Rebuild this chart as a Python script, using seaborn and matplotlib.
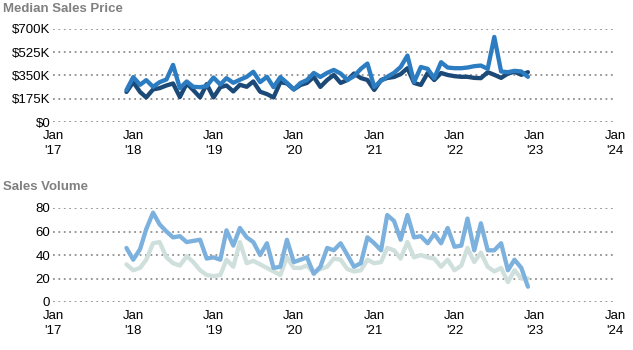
import numpy as np
import pandas as pd
import seaborn as sns
import matplotlib
matplotlib.use("Agg")
import matplotlib.pyplot as plt
import matplotlib.dates as mdates
from matplotlib.ticker import FixedLocator

# ---------------- data ----------------
months = pd.date_range("2017-12-01", periods=61, freq="MS")

price_dark = [226,
              300, 226, 185, 245, 255, 275, 290, 188, 290, 240, 185, 285,
              185, 262, 275, 230, 280, 265, 305, 228, 210, 185, 300, 290,
              245, 279, 294, 339, 264, 316, 354, 294, 316, 365, 331, 316,
              241, 316, 331, 339, 360, 405, 294, 279, 369, 316, 369, 354,
              345, 340, 340, 332, 330, 375, 355, 332, 365, 378, 355, 375]

price_mid = [240,
             338, 280, 315, 265, 300, 320, 430, 255, 305, 265, 262, 270,
             335, 282, 330, 295, 318, 340, 378, 300, 340, 262, 338, 295,
             245, 294, 316, 369, 339, 370, 392, 365, 316, 345, 400, 440,
             264, 310, 340, 370, 414, 500, 300, 414, 400, 330, 450, 410,
             405, 405, 410, 420, 425, 400, 640, 380, 375, 385, 380, 340]

volume_blue = [46,
               36, 45, 62, 76, 66, 60, 55, 56, 51, 52, 53, 37,
               38, 36, 61, 48, 63, 55, 51, 40, 50, 29, 30, 53,
               34, 36, 38, 24, 30, 46, 44, 50, 40, 30, 33, 55,
               50, 44, 74, 69, 53, 74, 55, 56, 50, 58, 50, 63,
               47, 48, 71, 44, 67, 44, 44, 50, 27, 36, 29, 13]

volume_green = [32,
                27, 29, 36, 50, 51, 38, 33, 31, 39, 34, 27, 23,
                22, 23, 36, 30, 51, 33, 35, 32, 29, 26, 23, 38,
                29, 29, 31, 25, 28, 30, 37, 36, 28, 26, 27, 36,
                33, 34, 46, 44, 37, 51, 38, 40, 38, 37, 30, 36,
                27, 31, 46, 34, 42, 30, 26, 29, 17, 27, 20, 20]

price_ticks = [0, 175, 350, 525, 700]
price_labels = ["$0", "$175K", "$350K", "$525K", "$700K"]
volume_ticks = [0, 20, 40, 60, 80]
years = list(range(2017, 2025))
year_labels = ["Jan\n'%02d" % (y % 100) for y in years]

price_df = pd.DataFrame({
    "date": list(months) * 2,
    "value": price_dark + price_mid,
    "series": ["Series 1"] * 61 + ["Series 2"] * 61,
})
volume_df = pd.DataFrame({
    "date": list(months) * 2,
    "value": volume_green + volume_blue,
    "series": ["Series 1"] * 61 + ["Series 2"] * 61,
})

# ---------------- style ----------------
sns.set_style("white")
plt.rcParams["font.family"] = ["Liberation Sans", "DejaVu Sans"]

fig = plt.figure(figsize=(6.33, 3.5), dpi=100)
ax1 = fig.add_axes([53 / 633, 1 - 122 / 350, (615 - 53) / 633, 93 / 350])
ax2 = fig.add_axes([53 / 633, 1 - 302 / 350, (615 - 53) / 633, 94 / 350])

sns.lineplot(data=price_df, x="date", y="value", hue="series", ax=ax1,
             palette={"Series 1": "#1c4a78", "Series 2": "#2b7cc0"},
             linewidth=3.1, legend=False)
sns.lineplot(data=volume_df, x="date", y="value", hue="series", ax=ax2,
             palette={"Series 1": "#cfe0dc", "Series 2": "#7cb1de"},
             linewidth=3.1, legend=False)

xmin = mdates.date2num(pd.Timestamp("2017-01-01"))
xmax = mdates.date2num(pd.Timestamp("2024-01-01"))
year_pos = [mdates.date2num(pd.Timestamp(f"{y}-01-01")) for y in years]

for ax, ticks, labels, ymax in [(ax1, price_ticks, price_labels, 700),
                                (ax2, volume_ticks, [str(v) for v in volume_ticks], 80)]:
    ax.set_xlim(xmin, xmax)
    ax.set_ylim(0, ymax)
    ax.xaxis.set_major_locator(FixedLocator(year_pos))
    ax.set_xticklabels(year_labels, fontsize=9.5, linespacing=1.25)
    ax.set_yticks(ticks)
    ax.set_yticklabels(labels, fontsize=9.5)
    ax.set_xlabel("")
    ax.set_ylabel("")
    for s in ax.spines.values():
        s.set_visible(False)
    ax.tick_params(axis="both", length=0, colors="black")
    ax.tick_params(axis="x", pad=6)
    ax.tick_params(axis="y", pad=2)
    ax.grid(axis="y", color="#8f8f8f", linestyle=(0, (1, 2)), linewidth=1.3)
    ax.grid(axis="x", visible=False)
    ax.set_axisbelow(True)
    for line in ax.get_lines():
        line.set_clip_on(False)
        line.set_zorder(3)

fig.text(3 / 633, 1 - 9 / 350, "Median Sales Price", fontsize=9.5,
         fontweight="bold", color="#808080", va="center", ha="left")
fig.text(3 / 633, 1 - 187 / 350, "Sales Volume", fontsize=9.5,
         fontweight="bold", color="#808080", va="center", ha="left")

fig.savefig("out.png", dpi=100)
